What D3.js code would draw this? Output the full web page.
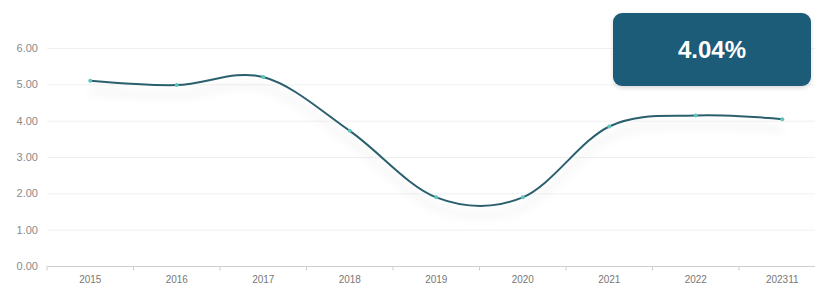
<!DOCTYPE html>
<html>
<head>
<meta charset="utf-8">
<script src="https://cdn.jsdelivr.net/npm/d3@7"></script>
<style>
  body { margin: 0; background: #fff; }
  text { font-family: "Liberation Sans", Arial, sans-serif; }
</style>
</head>
<body>
<script>
// data
var years = ["2015", "2016", "2017", "2018", "2019", "2020", "2021", "2022", "202311"];
var rates = [5.10, 4.98, 5.20, 3.72, 1.89, 1.89, 3.84, 4.14, 4.04];
var yTicks = [0, 1, 2, 3, 4, 5, 6];
var badgeText = "4.04%";

var W = 815, H = 286;
var margin = {top: 48, right: 0, bottom: 19, left: 47};

var svg = d3.select("body").append("svg")
    .attr("width", W)
    .attr("height", H);

var defs = svg.append("defs");
var shadow = defs.append("filter")
    .attr("id", "shadow")
    .attr("x", "-10%").attr("y", "-50%")
    .attr("width", "120%").attr("height", "250%");
shadow.append("feDropShadow")
    .attr("dx", 0).attr("dy", 10)
    .attr("stdDeviation", 5)
    .attr("flood-color", "#000")
    .attr("flood-opacity", 0.12);

var badgeShadow = defs.append("filter")
    .attr("id", "badgeShadow")
    .attr("x", "-20%").attr("y", "-30%")
    .attr("width", "140%").attr("height", "170%");
badgeShadow.append("feDropShadow")
    .attr("dx", 0).attr("dy", 2)
    .attr("stdDeviation", 2)
    .attr("flood-color", "#000")
    .attr("flood-opacity", 0.15);

var x = d3.scaleBand()
    .domain(years)
    .range([margin.left, margin.left + 86.5 * years.length]);

var y = d3.scaleLinear()
    .domain([0, 6])
    .range([H - margin.bottom - 1, margin.top]);

// grid lines
svg.append("g")
    .selectAll("line")
    .data(yTicks.slice(1))
    .enter().append("line")
    .attr("x1", margin.left)
    .attr("x2", W)
    .attr("y1", function(d) { return y(d) + 0.5; })
    .attr("y2", function(d) { return y(d) + 0.5; })
    .attr("stroke", "#f0f0f0");

// y labels
svg.append("g")
    .selectAll("text")
    .data(yTicks)
    .enter().append("text")
    .attr("x", 38)
    .attr("y", function(d) { return y(d); })
    .attr("dy", "0.35em")
    .attr("text-anchor", "end")
    .attr("font-size", 11)
    .attr("fill", "#8a8a8a")
    .text(function(d) { return d.toFixed(2); });

// x axis
var xAxis = d3.axisBottom(x).tickSize(4).tickSizeOuter(0);
var gx = svg.append("g")
    .attr("transform", "translate(0," + (y(0) + 0.5) + ")")
    .call(xAxis);
gx.select(".domain").remove();
gx.append("line")
    .attr("x1", margin.left).attr("x2", W)
    .attr("stroke", "#cfcfcf");
gx.selectAll(".tick line").remove();
gx.selectAll(".tick text")
    .attr("fill", "#777")
    .attr("font-size", 10)
    .attr("y", 9)
    .style("font-family", "Liberation Sans, Arial, sans-serif");
// band boundary ticks
gx.append("g").selectAll("line")
    .data(years)
    .enter().append("line")
    .attr("x1", function(d) { return x(d); })
    .attr("x2", function(d) { return x(d); })
    .attr("y1", 0).attr("y2", 4)
    .attr("stroke", "#cfcfcf");

// line
var line = d3.line()
    .x(function(d, i) { return x(years[i]) + x.bandwidth() / 2; })
    .y(function(d) { return y(d); })
    .curve(d3.curveCardinal.tension(0));

svg.append("path")
    .datum(rates)
    .attr("fill", "none")
    .attr("stroke", "#2b5e6e")
    .attr("stroke-width", 2)
    .attr("filter", "url(#shadow)")
    .attr("d", line);

svg.append("g")
    .selectAll("circle")
    .data(rates)
    .enter().append("circle")
    .attr("cx", function(d, i) { return x(years[i]) + x.bandwidth() / 2; })
    .attr("cy", function(d) { return y(d); })
    .attr("r", 2)
    .attr("fill", "#5cc4bc");

// badge
var badge = svg.append("g").attr("transform", "translate(613,13)");
badge.append("rect")
    .attr("width", 198)
    .attr("height", 73)
    .attr("rx", 9)
    .attr("fill", "#1c5b78")
    .attr("filter", "url(#badgeShadow)");
badge.append("text")
    .attr("x", 99)
    .attr("y", 37)
    .attr("dy", "0.35em")
    .attr("text-anchor", "middle")
    .attr("font-size", 24)
    .attr("font-weight", "bold")
    .attr("fill", "#fff")
    .text(badgeText);
</script>
</body>
</html>
